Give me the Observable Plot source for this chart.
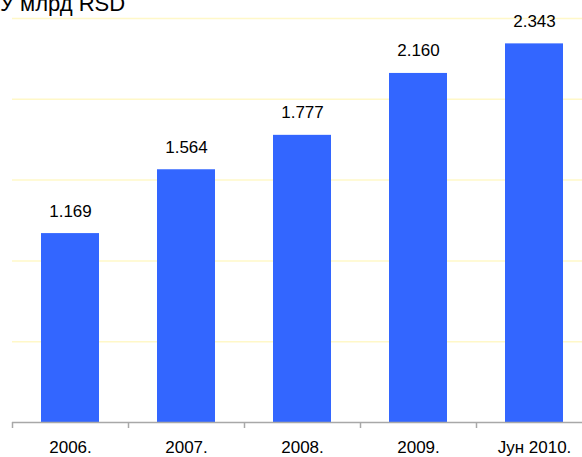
<!DOCTYPE html>
<html>
<head>
<meta charset="utf-8">
<script src="https://cdn.jsdelivr.net/npm/d3@7"></script>
<script src="https://cdn.jsdelivr.net/npm/@observablehq/plot@0.6"></script>
<style>
  html, body { margin: 0; padding: 0; background: #fff; overflow: hidden; }
  #wrap { position: relative; width: 582px; height: 457px; }
  #title { position: absolute; left: 0; top: -8px; font: 22px/24px "Liberation Sans", Arial, sans-serif; color: #000; white-space: nowrap; }
</style>
</head>
<body>
<div id="wrap">
  <div id="chart"></div>
  <div id="title">У млрд RSD</div>
</div>
<script>
const categories = ["2006.", "2007.", "2008.", "2009.", "Јун 2010."];
const values = [1169, 1564, 1777, 2160, 2343];
const gridTicks = [500, 1000, 1500, 2000, 2500];

const data = categories.map((c, i) => ({category: c, value: values[i]}));
const fmt = d3.formatLocale({decimal: ",", thousands: ".", grouping: [3], currency: ["", ""]}).format(",");

const xRange = [12, 592];
const half = (xRange[1] - xRange[0]) / categories.length / 2;

const chart = Plot.plot({
  width: 582,
  height: 457,
  marginLeft: 12,
  marginRight: 0,
  marginTop: 18,
  marginBottom: 35,
  style: {fontFamily: "'Liberation Sans', Arial, sans-serif", background: "#fff", overflow: "visible"},
  x: {type: "band", domain: categories, range: xRange, paddingInner: 0.5, paddingOuter: 0.25, align: 0.5, axis: null},
  y: {type: "linear", domain: [0, 2500], range: [422, 18], axis: null},
  marks: [
    Plot.ruleY(gridTicks, {y: d => d, stroke: "#fff8c8", strokeWidth: 1.5}),
    Plot.barY(data, {x: "category", y: "value", fill: "#3366ff"}),
    Plot.text(data, {x: "category", y: "value", text: d => fmt(d.value), dy: -17, lineAnchor: "bottom", fontSize: 17, fill: "#000"}),
    Plot.ruleY([0], {stroke: "#a8a8a8", strokeWidth: 1.5}),
    Plot.ruleX(categories, {x: d => d, dx: -half, y1: 0, y2: 0, insetTop: 0, insetBottom: -6, stroke: "#a8a8a8", strokeWidth: 1.5}),
    Plot.text(categories, {x: d => d, y: 0, text: d => d, dy: 30, lineAnchor: "bottom", fontSize: 17, fill: "#000"})
  ]
});
document.getElementById("chart").appendChild(chart);
</script>
</body>
</html>
